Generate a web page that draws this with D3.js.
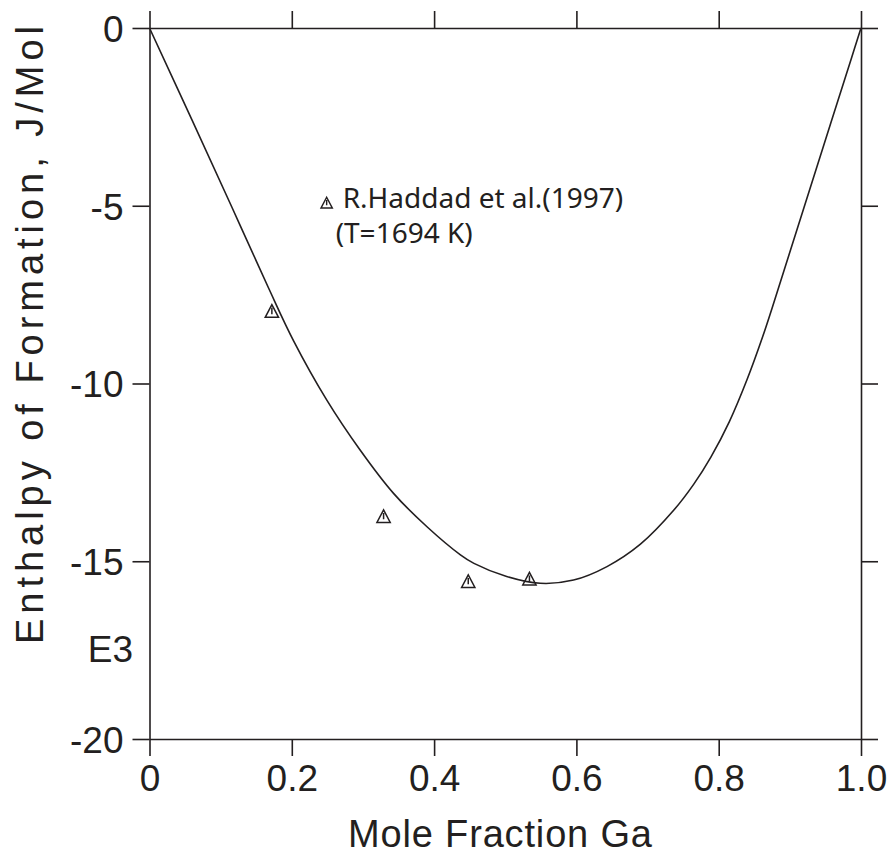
<!DOCTYPE html>
<html>
<head>
<meta charset="utf-8">
<script src="https://cdn.jsdelivr.net/npm/d3@7"></script>
<style>
    body { margin: 0; background: #fff; }
    svg text { fill: #231f20; }
    .axis path, .axis line { stroke: #231f20; stroke-width: 1.6; }
    .axis text { font-family: "Liberation Sans", Arial, sans-serif; font-size: 37px; }
</style>
</head>
<body>
<svg id="graph" width="890" height="858"></svg>
<script>
(function(){
    'use strict';

    /*******************************************************************
     *                              DATA                               *
     *******************************************************************/

    // Calculated curve (mole fraction Ga, kJ/mol)
    var curveX = [0, 0.06, 0.116, 0.167, 0.2025, 0.249, 0.296, 0.343, 0.390, 0.437,
                  0.456, 0.502, 0.549, 0.596, 0.643, 0.690, 0.737, 0.765, 0.789,
                  0.815, 0.840, 0.862, 0.875, 0.920, 0.957, 0.987, 1.0];
    var curveY = [0, -2.6, -5.05, -7.3, -8.8, -10.46, -11.87, -13.09, -14.03, -14.82,
                  -15.06, -15.43, -15.62, -15.53, -15.15, -14.52, -13.56, -12.83, -12.07,
                  -11.07, -9.88, -8.67, -7.88, -5.04, -2.71, -0.82, 0];

    // R.Haddad et al. (1997) measurements
    var haddadX = [0.172, 0.329, 0.448, 0.534];
    var haddadY = [-7.98, -13.75, -15.58, -15.51];

    var xTicks = [0, 0.2, 0.4, 0.6, 0.8, 1.0];
    var xTickLabels = ['0', '0.2', '0.4', '0.6', '0.8', '1.0'];
    var yTicks = [0, -5, -10, -15, -20];

    var legendLines = ['R.Haddad et al.(1997)', '(T=1694 K)'];
    var legendAt = [0.249, -4.93];

    /*******************************************************************
     *                             SCALES                              *
     *******************************************************************/

    var svg = d3.select('#graph');
    var left = 149.5, right = 861, top = 28, bottom = 739;
    var tick = 17;
    var font = '"Liberation Sans", Arial, sans-serif';

    var xScale = d3.scaleLinear().domain([0, 1]).range([left, right]);
    var yScale = d3.scaleLinear().domain([-20, 0]).range([bottom, top]);

    /*******************************************************************
     *                              AXES                               *
     *******************************************************************/

    svg.append('g')
        .attr('class', 'x axis')
        .attr('transform', 'translate(0,' + bottom + ')')
        .call(d3.axisBottom(xScale)
            .tickValues(xTicks)
            .tickSize(tick).tickSizeOuter(0).tickPadding(7)
            .tickFormat(function(d, i) { return xTickLabels[i]; }));

    svg.append('g')
        .attr('class', 'x axis')
        .attr('transform', 'translate(0,' + top + ')')
        .call(d3.axisTop(xScale)
            .tickValues(xTicks)
            .tickSize(tick).tickSizeOuter(0)
            .tickFormat(''));

    svg.append('g')
        .attr('class', 'y axis')
        .attr('transform', 'translate(' + left + ',0)')
        .call(d3.axisLeft(yScale)
            .tickValues(yTicks)
            .tickSize(tick).tickSizeOuter(0).tickPadding(9)
            .tickFormat(function(d) { return String(d); }));

    svg.append('g')
        .attr('class', 'y axis')
        .attr('transform', 'translate(' + right + ',0)')
        .call(d3.axisRight(yScale)
            .tickValues(yTicks)
            .tickSize(tick).tickSizeOuter(0)
            .tickFormat(''));

    svg.selectAll('.x.axis text').attr('dy', '0.76em');
    svg.selectAll('.y.axis text').attr('dy', '0.36em');

    // axis titles
    svg.append('text')
        .attr('x', 500)
        .attr('y', 847)
        .attr('text-anchor', 'middle')
        .attr('textLength', 304)
        .attr('lengthAdjust', 'spacing')
        .style('font-family', font)
        .style('font-size', '38px')
        .text('Mole Fraction Ga');

    svg.append('text')
        .attr('transform', 'translate(43,' + 335 + ') rotate(-90)')
        .attr('text-anchor', 'middle')
        .attr('textLength', 618)
        .attr('lengthAdjust', 'spacing')
        .style('font-family', font)
        .style('font-size', '38px')
        .text('Enthalpy of Formation, J/Mol');

    svg.append('text')
        .attr('x', 133)
        .attr('y', 662)
        .attr('text-anchor', 'end')
        .style('font-family', font)
        .style('font-size', '37px')
        .text('E3');

    /*******************************************************************
     *                          CURVE + POINTS                         *
     *******************************************************************/

    var line = d3.line()
        .x(function(d, i) { return xScale(curveX[i]); })
        .y(function(d, i) { return yScale(curveY[i]); })
        .curve(d3.curveCatmullRom.alpha(0.5));

    svg.append('path')
        .attr('d', line(curveX))
        .attr('fill', 'none')
        .attr('stroke', '#231f20')
        .attr('stroke-width', 1.6);

    // triangle with a stroke through its middle
    function marker(s) {
        return 'M0,' + (-s) + 'L' + (s * 0.95) + ',' + (s * 0.8) +
               'L' + (-s * 0.95) + ',' + (s * 0.8) + 'Z' +
               'M0,' + (-s * 0.55) + 'L0,' + (s * 0.35);
    }

    svg.selectAll('path.point')
        .data(haddadX)
        .enter()
        .append('path')
        .attr('class', 'point')
        .attr('transform', function(d, i) {
            return 'translate(' + xScale(d) + ',' + yScale(haddadY[i]) + ')';
        })
        .attr('d', marker(7))
        .attr('fill', 'none')
        .attr('stroke', '#231f20')
        .attr('stroke-width', 1.5);

    /*******************************************************************
     *                             LEGEND                              *
     *******************************************************************/

    var lx = xScale(legendAt[0]), ly = yScale(legendAt[1]);

    svg.append('path')
        .attr('transform', 'translate(' + lx + ',' + ly + ')')
        .attr('d', marker(6))
        .attr('fill', 'none')
        .attr('stroke', '#231f20')
        .attr('stroke-width', 1.4);

    svg.selectAll('text.legend')
        .data(legendLines)
        .enter()
        .append('text')
        .attr('class', 'legend')
        .attr('x', function(d, i) { return lx + (i === 0 ? 16 : 9); })
        .attr('y', function(d, i) { return ly + 5 + i * 35; })
        .style('font-family', '"Noto Sans", sans-serif')
        .style('font-size', '28px')
        .text(function(d) { return d; });
})();
</script>
</body>
</html>
